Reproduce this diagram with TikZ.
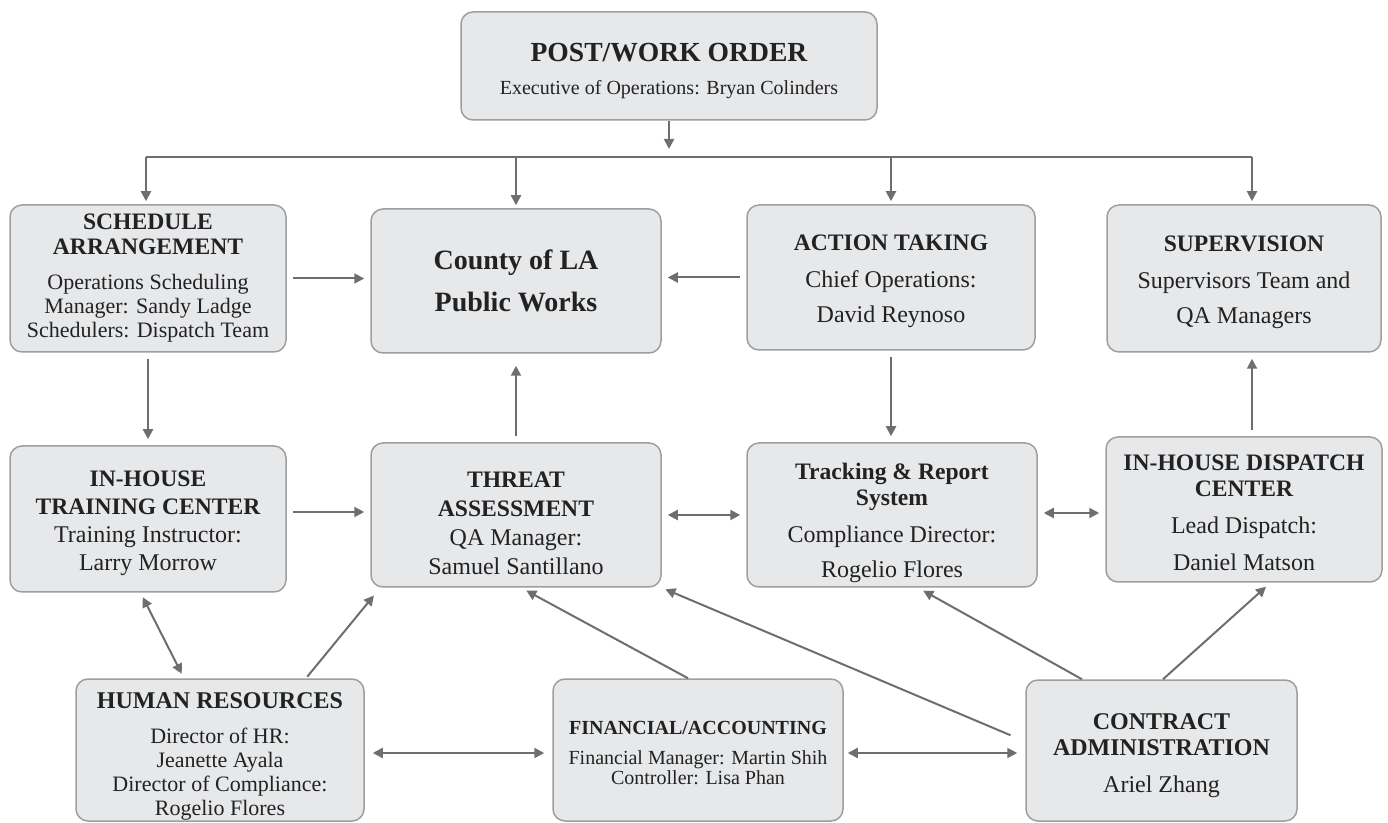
\documentclass[tikz,border=0pt]{standalone}
\usepackage{fontspec}
\setmainfont{Liberation Serif}
\usetikzlibrary{arrows.meta, positioning, calc}
\definecolor{boxfill}{HTML}{E7E8EA}
\definecolor{boxline}{HTML}{9E9E9E}
\definecolor{linegray}{HTML}{6E6E6E}
\definecolor{textdark}{HTML}{222222}
\newcommand{\headtext}[2][11.8]{{\fontsize{#1}{#1}\selectfont\bfseries #2}}
\newcommand{\headroom}[1]{\rule{0pt}{#1}}

\begin{document}
\begin{tikzpicture}[x=0.5pt,y=-0.5pt,
  unit/.style={rectangle,draw=boxline,line width=0.75pt,fill=boxfill,rounded corners=6pt,align=center,text=textdark,inner sep=0pt},
  sz/.style 2 args={minimum width=#1*0.5pt,minimum height=#2*0.5pt},
  line/.style={draw=linegray,line width=1pt},
  arr/.style={line,-{Triangle[length=5pt,width=5pt]},shorten >=3pt,shorten <=3pt},
  biarr/.style={arr,{Triangle[length=5pt,width=5pt]}-{Triangle[length=5pt,width=5pt]}}
]
  \useasboundingbox (0,0) rectangle (1388,823);
  \node[unit,sz={416}{108},font=\fontsize{10}{16.5}\selectfont](post) at (669,66)
    {\headroom{14.5pt}\headtext[13.8]{POST/WORK ORDER}\\Executive of Operations: Bryan Colinders};
  \node[unit,sz={276}{147},font=\fontsize{11}{12}\selectfont](sched) at (148,278.5)
    {\headtext{SCHEDULE}\\[0.5pt]\headtext{ARRANGEMENT}\\[5.5pt]Operations Scheduling\\Manager: Sandy Ladge\\Schedulers: Dispatch Team};
  \node[unit,sz={290}{144},font=\fontsize{14}{21}\selectfont\bfseries](county) at (516,281)
    {County of LA\\Public Works};
  \node[unit,sz={288}{145},font=\fontsize{12}{17.5}\selectfont](action) at (891,277.5)
    {\headroom{11.7pt}\headtext{ACTION TAKING}\\[1pt]Chief Operations:\\David Reynoso};
  \node[unit,sz={274}{147},font=\fontsize{12}{17.5}\selectfont](superv) at (1244,278.5)
    {\headroom{11.7pt}\headtext{SUPERVISION}\\[1pt]Supervisors Team and\\QA Managers};
  \node[unit,sz={276}{146},font=\fontsize{12}{14}\selectfont](train) at (148,519)
    {\headroom{11.7pt}\headtext{IN-HOUSE}\\\headtext{TRAINING CENTER}\\Training Instructor:\\Larry Morrow};
  \node[unit,sz={290}{144},font=\fontsize{12}{14.5}\selectfont](threat) at (516,515)
    {\headroom{15.7pt}\headtext{THREAT}\\\headtext{ASSESSMENT}\\QA Manager:\\Samuel Santillano};
  \node[unit,sz={290}{144},font=\fontsize{12}{17.5}\selectfont](track) at (892,515)
    {\headroom{16pt}\headtext{Tracking \& Report}\\[-4.5pt]\headtext{System}\\[1pt]Compliance Director:\\Rogelio Flores};
  \node[unit,sz={276}{145},font=\fontsize{12}{18.5}\selectfont](disp) at (1244,509.5)
    {\headroom{10.7pt}\headtext{IN-HOUSE DISPATCH}\\[-5.5pt]\headtext{CENTER}\\Lead Dispatch:\\Daniel Matson};
  \node[unit,sz={288}{142},font=\fontsize{11}{12}\selectfont](hr) at (220,750)
    {\headroom{13.9pt}\headtext[12]{HUMAN RESOURCES}\\[5.5pt]Director of HR:\\Jeanette Ayala\\Director of Compliance:\\Rogelio Flores};
  \node[unit,sz={290}{142},font=\fontsize{10}{10}\selectfont](fin) at (698,750)
    {\headroom{9.9pt}\headtext[10]{FINANCIAL/ACCOUNTING}\\[5pt]Financial Manager: Martin Shih\\Controller: Lisa Phan};
  \node[unit,sz={271}{141},font=\fontsize{12}{13}\selectfont](contr) at (1161.5,750.5)
    {\headroom{12.9pt}\headtext[12]{CONTRACT}\\\headtext[12]{ADMINISTRATION}\\[5.5pt]Ariel Zhang};
  \coordinate (busmid) at (669,157);
  \coordinate (busL) at (146,157);
  \coordinate (busR) at (1252,157);
  \draw[arr,shorten <=0pt,shorten >=4pt](post.south)--(busmid);
  \draw[line](busL)--(busR);
  \draw[arr,shorten <=0pt,shorten >=1.5pt](busL)--(busL |- sched.north);
  \draw[arr,shorten <=0pt,shorten >=1.5pt](county.north |- busL)--(county.north);
  \draw[arr,shorten <=0pt,shorten >=1.5pt](action.north |- busL)--(action.north);
  \draw[arr,shorten <=0pt,shorten >=1.5pt](busR)--(busR |- superv.north);
  \draw[arr](sched.east)--(sched.east -| county.west);
  \draw[arr](action.west)--(action.west -| county.east);
  \draw[arr](sched.south)--(sched.south |- train.north);
  \draw[arr,shorten >=6pt](threat.north)--(county.south);
  \draw[arr](action.south)--(action.south |- track.north);
  \draw[arr](disp.north -| busR)--(superv.south -| busR);
  \draw[arr]([yshift=3.5pt]train.east)--([yshift=3.5pt]train.east -| threat.west);
  \draw[biarr](threat.east)--(track.west);
  \draw[biarr]([yshift=1pt]track.east)--([yshift=1pt]track.east -| disp.west);
  \draw[biarr,shorten <=2.5pt,shorten >=2.5pt]([xshift=-3.75pt]train.south)--([xshift=-18pt]hr.north);
  \draw[arr,shorten <=1pt,shorten >=5pt]([xshift=43pt]hr.north)--([xshift=5pt]threat.south west);
  \draw[biarr,shorten <=4pt,shorten >=4pt]([yshift=-1.5pt]hr.east)--([yshift=-1.5pt]hr.east -| fin.west);
  \draw[biarr,shorten <=2pt,shorten >=4pt]([yshift=-1.5pt]fin.east)--([yshift=-1.5pt]fin.east -| contr.west);
  \draw[arr,shorten <=0pt]([xshift=-5pt]fin.north)--([xshift=2.5pt]threat.south);
  \draw[arr,shorten <=8pt,shorten >=2pt]([yshift=4.5pt]contr.west)--(threat.south east);
  \draw[arr,shorten <=0pt]([xshift=-39.75pt]contr.north)--([xshift=13pt]track.south);
  \draw[arr,shorten <=0pt]([xshift=0.75pt]contr.north)--([xshift=13.25pt]disp.south);
\end{tikzpicture}
\end{document}
